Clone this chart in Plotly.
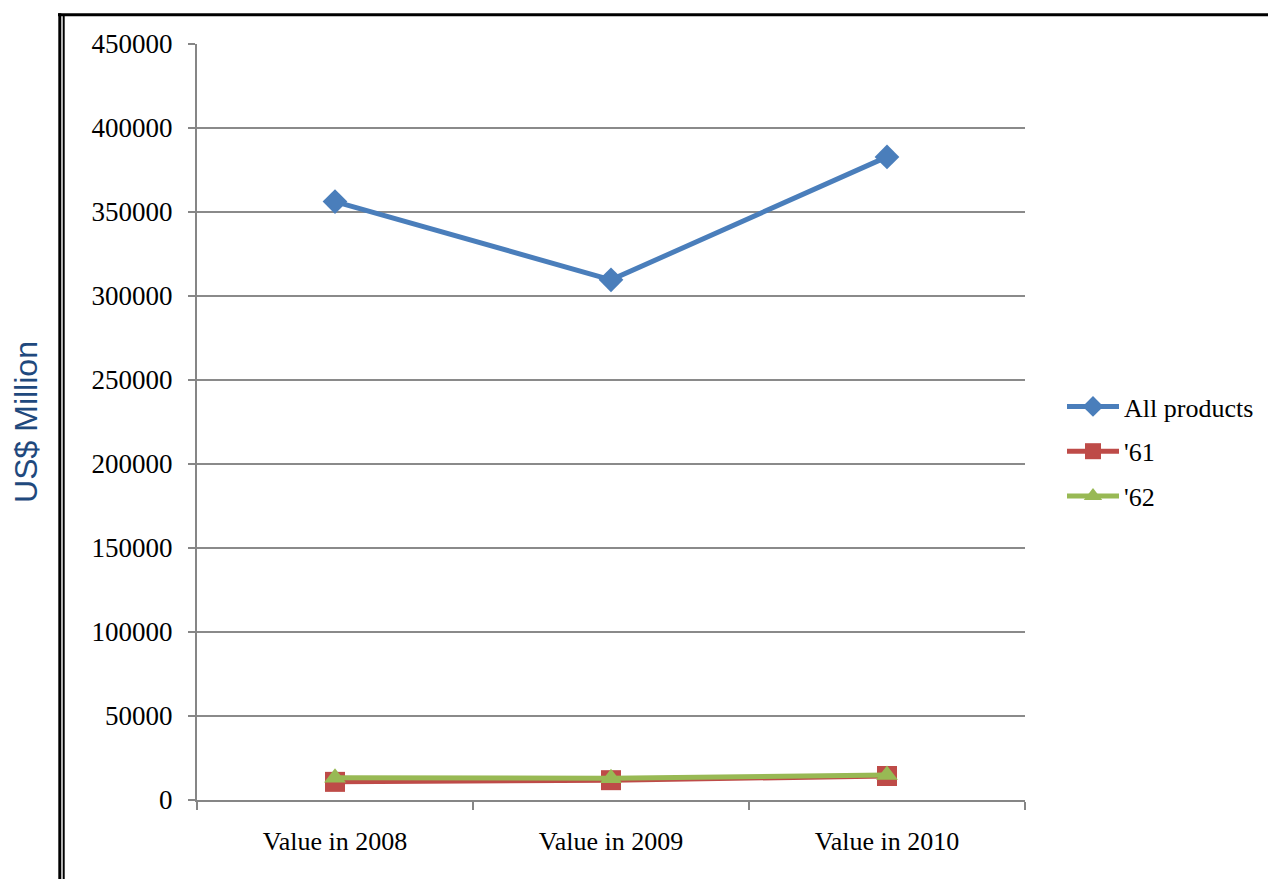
import plotly.graph_objects as go

categories = ["Value in 2008", "Value in 2009", "Value in 2010"]
all_products = [356200, 309600, 382800]
s61 = [10800, 11800, 14300]
s62 = [13300, 12900, 14900]
y_ticks = [0, 50000, 100000, 150000, 200000, 250000, 300000, 350000, 400000, 450000]

# page body has an 8px default margin; work in page pixels and shift
OFF = 8
W, H = 1276 - OFF, 879 - OFF
L, R, T, B = 197 - OFF, 1025 - OFF, 44 - OFF, 800 - OFF

def px(x):
    return (x - OFF - L) / (R - L)

def py(y):
    return (B - (y - OFF)) / (B - T)

fig = go.Figure()
fig.add_trace(go.Scatter(x=categories, y=all_products, name="All products", mode="lines+markers",
                         line=dict(color="#4A7EBB", width=5),
                         marker=dict(symbol="diamond", size=19, color="#4A7EBB", line=dict(width=0)),
                         legendgroup="a"))
fig.add_trace(go.Scatter(x=categories, y=s61, name="'61", mode="lines+markers",
                         line=dict(color="#BE4B48", width=5),
                         marker=dict(symbol="square", size=20, color="#BE4B48", line=dict(width=0)),
                         legendgroup="b"))
fig.add_trace(go.Scatter(x=categories, y=s62, name="'62", mode="lines+markers",
                         line=dict(color="#98B954", width=5),
                         marker=dict(symbol="triangle-up", size=19, color="#98B954", line=dict(width=0)),
                         legendgroup="c"))

font = "Liberation Serif, Times New Roman, serif"

fig.update_layout(
    width=W, height=H,
    margin=dict(l=L, r=W - R, t=T, b=H - B, pad=0),
    paper_bgcolor="white", plot_bgcolor="white",
    font=dict(family=font, size=27, color="black"),
    showlegend=True,
    legend=dict(x=px(1062), y=py(383), xanchor="left", yanchor="top",
                font=dict(family=font, size=26, color="black"),
                tracegroupgap=8, itemwidth=52, bgcolor="rgba(0,0,0,0)"),
    xaxis=dict(type="category", range=[-0.5, 2.5], tickson="boundaries",
               ticks="outside", ticklen=8, tickwidth=2, tickcolor="#868686",
               showline=True, linecolor="#868686", linewidth=2,
               showgrid=False, zeroline=False, ticklabelstandoff=17,
               tickfont=dict(family=font, size=26, color="black")),
    yaxis=dict(range=[0, 450000], tickvals=y_ticks, ticktext=[str(v) for v in y_ticks],
               ticks="outside", ticklen=7, tickwidth=2, tickcolor="#868686",
               showline=True, linecolor="#868686", linewidth=2,
               showgrid=True, gridcolor="#8A8A8A", gridwidth=2,
               zeroline=False, ticklabelstandoff=10,
               tickfont=dict(family=font, size=27, color="black"),
               title=dict(text="US$ Million", standoff=47,
                          font=dict(family="Liberation Sans, Arial, sans-serif", size=32, color="#1F497D"))),
    shapes=[
        dict(type="line", xref="paper", yref="paper", x0=px(58), x1=px(1290), y0=py(14.8), y1=py(14.8),
             line=dict(color="black", width=3)),
        dict(type="line", xref="paper", yref="paper", x0=px(59.8), x1=px(59.8), y0=py(13.3), y1=py(895),
             line=dict(color="black", width=3)),
        dict(type="line", xref="paper", yref="paper", x0=px(63.7), x1=px(63.7), y0=py(15), y1=py(895),
             line=dict(color="black", width=2)),
    ],
)

fig.write_html("out.html")
